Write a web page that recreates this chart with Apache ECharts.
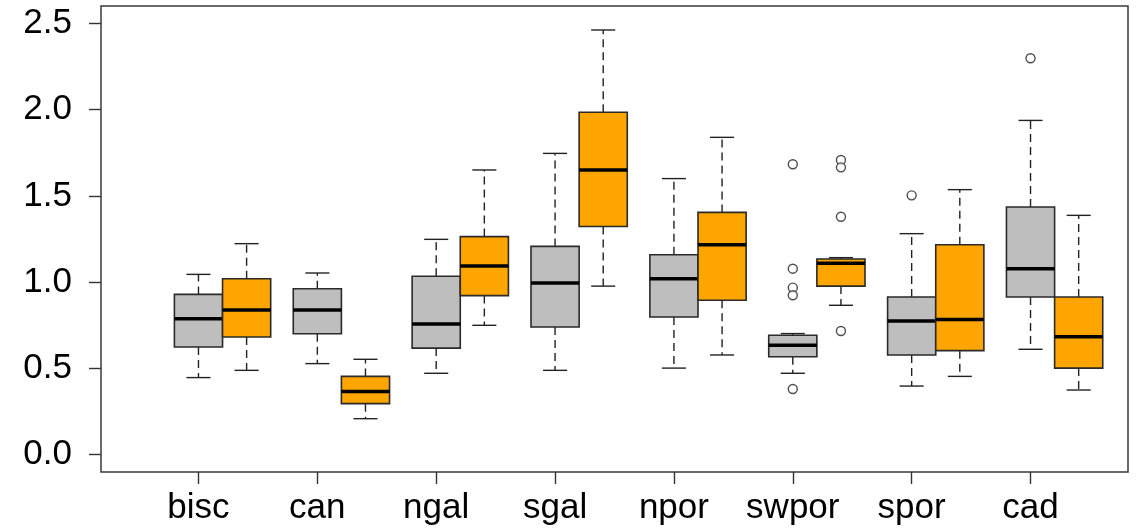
<!DOCTYPE html>
<html>
<head>
<meta charset="utf-8">
<script src="https://cdn.jsdelivr.net/npm/echarts@6/dist/echarts.min.js"></script>
<style>
  html, body { margin: 0; padding: 0; background: #fff; }
  #chart { width: 1138px; height: 530px; }
</style>
</head>
<body>
<div id="chart"></div>
<script>
/* categories on the x axis */
var categories = ['bisc', 'can', 'ngal', 'sgal', 'npor', 'swpor', 'spor', 'cad'];
/* five-number summaries: [min, Q1, median, Q3, max] */
var greyStats = [
    [0.447, 0.624, 0.788, 0.929, 1.045],
    [0.528, 0.701, 0.838, 0.962, 1.053],
    [0.472, 0.618, 0.757, 1.034, 1.248],
    [0.489, 0.740, 0.995, 1.207, 1.746],
    [0.502, 0.798, 1.020, 1.159, 1.600],
    [0.472, 0.568, 0.634, 0.692, 0.702],
    [0.398, 0.578, 0.775, 0.914, 1.281],
    [0.611, 0.914, 1.078, 1.435, 1.937]
];
var orangeStats = [
    [0.489, 0.682, 0.838, 1.020, 1.223],
    [0.209, 0.296, 0.367, 0.454, 0.553],
    [0.750, 0.922, 1.093, 1.264, 1.650],
    [0.977, 1.322, 1.650, 1.984, 2.461],
    [0.578, 0.895, 1.217, 1.404, 1.839],
    [0.866, 0.977, 1.109, 1.134, 1.142],
    [0.454, 0.603, 0.783, 1.217, 1.536],
    [0.375, 0.502, 0.684, 0.914, 1.387]
];
/* outliers: [category index, value] */
var greyOutliers = [[5, 1.683], [5, 1.078], [5, 0.968], [5, 0.924], [5, 0.381], [6, 1.503], [7, 2.297]];
var orangeOutliers = [[5, 1.708], [5, 1.665], [5, 1.379], [5, 0.717]];
/* y axis tick labels */
var yTicks = [0, 0.5, 1.0, 1.5, 2.0, 2.5];

var BOX_W = 0.405;      // box width in x units (one unit = one category group)
var FONT = 'Liberation Sans, Arial, sans-serif';

var toBoxData = function (stats, shift) {
    return stats.map(function (s, i) {
        return [i + shift].concat(s);
    });
};
var toPointData = function (list, shift) {
    return list.map(function (p) {
        return [p[0] + shift, p[1]];
    });
};

var makeRender = function (fill) {
    return function (params, api) {
        var x = api.value(0);
        var pMin = api.coord([x, api.value(1)]);
        var pQ1 = api.coord([x, api.value(2)]);
        var pMed = api.coord([x, api.value(3)]);
        var pQ3 = api.coord([x, api.value(4)]);
        var pMax = api.coord([x, api.value(5)]);
        var w = api.size([BOX_W, 0])[0];
        var cx = pMed[0];
        var dash = { stroke: '#222', lineWidth: 1.4, lineDash: [8, 5] };
        var solid = { stroke: '#222', lineWidth: 1.4 };
        return {
            type: 'group',
            children: [
                { type: 'line', shape: { x1: cx, y1: pQ3[1], x2: cx, y2: pMax[1] }, style: dash },
                { type: 'line', shape: { x1: cx, y1: pQ1[1], x2: cx, y2: pMin[1] }, style: dash },
                { type: 'line', shape: { x1: cx - w / 4, y1: pMax[1], x2: cx + w / 4, y2: pMax[1] }, style: solid },
                { type: 'line', shape: { x1: cx - w / 4, y1: pMin[1], x2: cx + w / 4, y2: pMin[1] }, style: solid },
                { type: 'rect', shape: { x: cx - w / 2, y: pQ3[1], width: w, height: pQ1[1] - pQ3[1] },
                  style: { fill: fill, stroke: '#2a2a2a', lineWidth: 1.6 } },
                { type: 'line', shape: { x1: cx - w / 2, y1: pMed[1], x2: cx + w / 2, y2: pMed[1] },
                  style: { stroke: '#000', lineWidth: 3.5 } }
            ]
        };
    };
};

var myChart = echarts.init(document.getElementById('chart'));
var option = {
    animation: false,
    grid: {
        left: 101, right: 10, top: 6, bottom: 58,
        show: true, borderColor: '#3a3a3a', borderWidth: 1.5, backgroundColor: 'transparent'
    },
    xAxis: {
        type: 'value',
        min: -0.82,
        max: 7.82,
        axisLine: { show: false, onZero: false },
        splitLine: { show: false },
        axisTick: { show: true, length: 12, lineStyle: { color: '#333', width: 1.4 },
                    customValues: categories.map(function (c, i) { return i; }) },
        axisLabel: {
            customValues: categories.map(function (c, i) { return i; }),
            formatter: function (v) { return categories[Math.round(v)]; },
            fontSize: 35, fontFamily: FONT, color: '#000', margin: 19
        }
    },
    yAxis: {
        type: 'value',
        min: -0.1,
        max: 2.6,
        axisLine: { show: false, onZero: false },
        splitLine: { show: false },
        axisTick: { show: true, length: 12, lineStyle: { color: '#333', width: 1.4 }, customValues: yTicks },
        axisLabel: {
            customValues: yTicks,
            formatter: function (v) { return v.toFixed(1); },
            fontSize: 35, fontFamily: FONT, color: '#000', margin: 29,
            padding: [7, 0, 0, 0]
        }
    },
    series: [
        {
            name: 'grey', type: 'custom', renderItem: makeRender('#BEBEBE'),
            encode: { x: 0, y: [1, 2, 3, 4, 5] }, data: toBoxData(greyStats, 0)
        },
        {
            name: 'orange', type: 'custom', renderItem: makeRender('#FFA500'),
            encode: { x: 0, y: [1, 2, 3, 4, 5] }, data: toBoxData(orangeStats, BOX_W)
        },
        {
            type: 'scatter', symbol: 'circle', symbolSize: 9,
            itemStyle: { color: '#fff', borderColor: '#222', borderWidth: 1.4 },
            data: toPointData(greyOutliers, 0)
        },
        {
            type: 'scatter', symbol: 'circle', symbolSize: 9,
            itemStyle: { color: '#fff', borderColor: '#222', borderWidth: 1.4 },
            data: toPointData(orangeOutliers, BOX_W)
        }
    ]
};
myChart.setOption(option);
</script>
</body>
</html>
